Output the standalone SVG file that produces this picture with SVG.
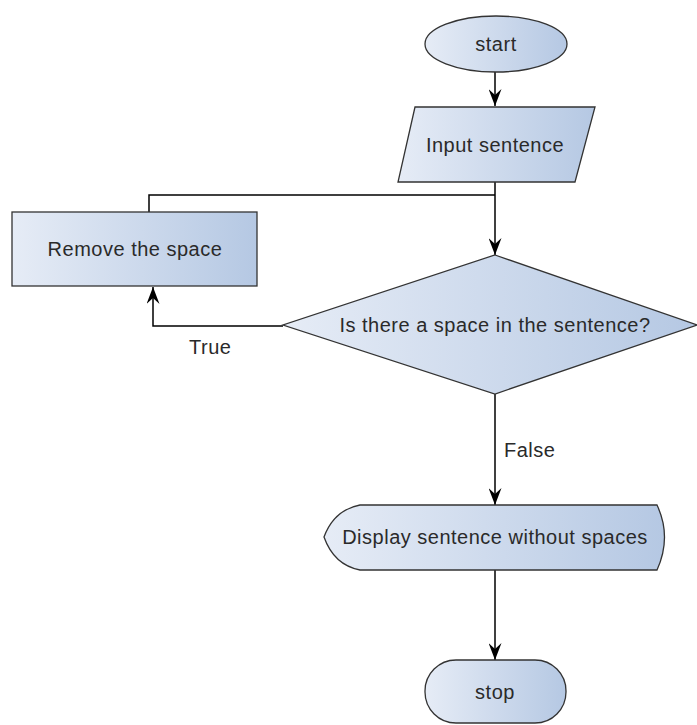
<svg xmlns="http://www.w3.org/2000/svg" width="697" height="725" viewBox="0 0 697 725">
  <style>
    .shape { fill: url(#nodeFill); stroke: #333333; stroke-width: 1.3; }
    .label { font-family: "Liberation Sans", Arial, sans-serif; font-size: 20px; letter-spacing: 0.5px; fill: #2a2a2a; text-anchor: middle; dominant-baseline: central; }
    .edge { fill: none; stroke: #000000; stroke-width: 1.5; }
    .edge-label { font-family: "Liberation Sans", Arial, sans-serif; font-size: 20px; letter-spacing: 0.5px; fill: #2a2a2a; }
  </style>
  <defs>
    <linearGradient id="nodeFill" x1="0" y1="0" x2="1" y2="0">
      <stop offset="0" stop-color="#e6ecf6"/>
      <stop offset="1" stop-color="#b5c8e3"/>
    </linearGradient>
    <marker id="arrow" viewBox="0 0 17 13" markerUnits="userSpaceOnUse" markerWidth="17" markerHeight="13" refX="17" refY="6.5" orient="auto">
      <path d="M0,0 L17,6.5 L0,13 L6,6.5 Z" fill="#000000"/>
    </marker>
  </defs>

  <!-- connectors -->
  <g id="connectors">
    <path class="edge" d="M495,72 L495,106" marker-end="url(#arrow)"/>
    <path class="edge" d="M495,182 L495,255" marker-end="url(#arrow)"/>
    <path class="edge" d="M149,212 L149,195 L495,195"/>
    <path class="edge" d="M283,326 L153,326 L153,287" marker-end="url(#arrow)"/>
    <path class="edge" d="M495,394 L495,505" marker-end="url(#arrow)"/>
    <path class="edge" d="M495,570 L495,660" marker-end="url(#arrow)"/>
    <text class="edge-label" x="189" y="347" dominant-baseline="central">True</text>
    <text class="edge-label" x="504" y="450" dominant-baseline="central">False</text>
  </g>

  <g id="start">
    <ellipse class="shape" cx="496" cy="44" rx="71" ry="28"/>
    <text class="label" x="496" y="44">start</text>
  </g>

  <g id="input-sentence">
    <polygon class="shape" points="415,107 595,107 575,182 398,182"/>
    <text class="label" x="495" y="145">Input sentence</text>
  </g>

  <g id="remove-space">
    <rect class="shape" x="12" y="212" width="245" height="74"/>
    <text class="label" x="135" y="249">Remove the space</text>
  </g>

  <g id="has-space">
    <polygon class="shape" points="495,255 697,325 495,394 283,325"/>
    <text class="label" x="495" y="325">Is there a space in the sentence?</text>
  </g>

  <g id="display">
    <path class="shape" d="M324,537 Q334,510 360,505 L657,505 Q672,537 657,570 L360,570 Q334,565 324,537 Z"/>
    <text class="label" x="495" y="537">Display sentence without spaces</text>
  </g>

  <g id="stop">
    <rect class="shape" x="425" y="660" width="141" height="63" rx="31" ry="31"/>
    <text class="label" x="495" y="692">stop</text>
  </g>
</svg>
